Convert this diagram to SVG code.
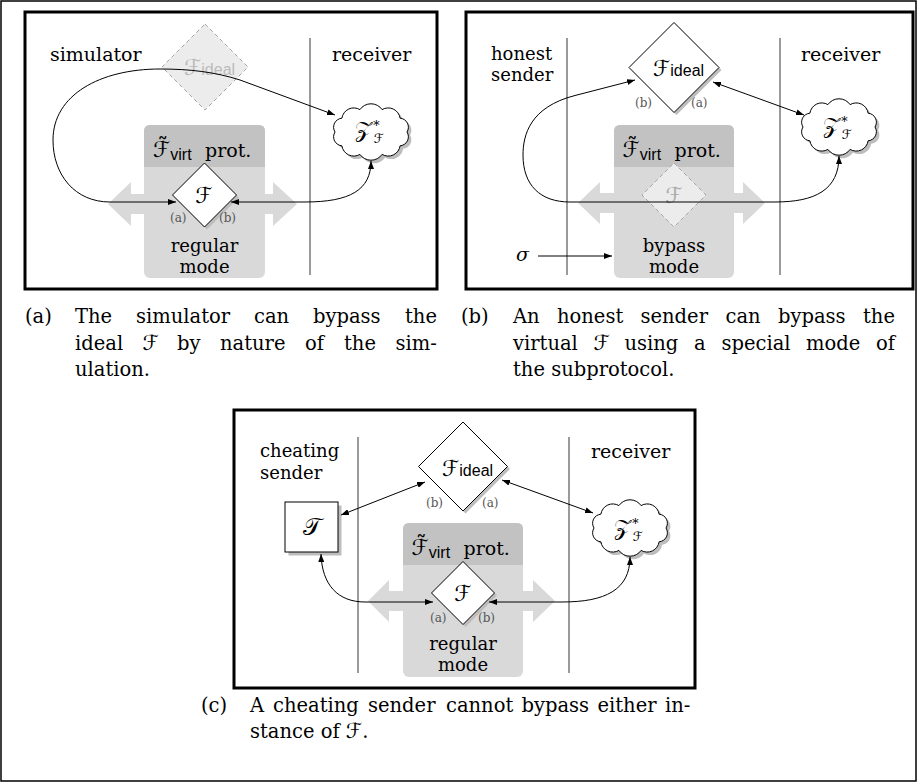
<svg xmlns="http://www.w3.org/2000/svg" width="918" height="783" viewBox="0 0 918 783">
<defs>
<style>
.t{font-family:"DejaVu Serif",serif;font-size:19px;fill:#000}
.t2{font-family:"DejaVu Serif",serif;font-size:18px;fill:#000}
.cap{font-family:"DejaVu Serif",serif;font-size:19.5px;fill:#000}
.mid{text-anchor:middle}
.m{font-family:"DejaVu Serif","DejaVu Sans",serif}
.sf{font-family:"Liberation Sans",Arial,sans-serif;font-size:16px}
.sm{font-family:"DejaVu Serif",serif;font-size:12px;fill:#555}
.panel{fill:none;stroke:#000;stroke-width:3}
.vline{stroke:#9a9a9a;stroke-width:2}
.boxlo{fill:#d9d9d9}
.boxhi{fill:#c2c2c2}
.fat{fill:#d9d9d9}
.dia{fill:#fff;stroke:#000;stroke-width:1}
.shadow{fill:#bdbdbd}
.dash{fill:#ececec;stroke:#a6a6a6;stroke-width:1;stroke-dasharray:4 3}
.cl{fill:#fff;stroke:#000;stroke-width:1}
.conn{fill:none;stroke:#000;stroke-width:1;marker-start:url(#ah);marker-end:url(#ah)}
.conn1{fill:none;stroke:#000;stroke-width:1;marker-end:url(#ah)}
.faded{fill:#bbb}
</style>
<marker id="ah" viewBox="0 0 8 6" refX="8" refY="3" markerWidth="8" markerHeight="6" markerUnits="userSpaceOnUse" orient="auto-start-reverse">
<path d="M0,0 L8,3 L0,6 Z" fill="#000"/>
</marker>
<path id="cloud" d="M36,0 A9 9 0 0 1 29.1,13.8 A12 12 0 0 1 11.1,22.4 A13.5 13.5 0 0 1 -11.1,22.4 A12 12 0 0 1 -29.1,13.8 A9 9 0 0 1 -36,0 A9 9 0 0 1 -29.1,-13.8 A12 12 0 0 1 -11.1,-22.4 A13.5 13.5 0 0 1 11.1,-22.4 A12 12 0 0 1 29.1,-13.8 A9 9 0 0 1 36,0 Z"/>
</defs>
<rect width="918" height="783" fill="#fff"/>
<rect x="1" y="1" width="915" height="780" fill="none" stroke="#000" stroke-width="1.5"/>

<!-- ===== Panel (a) ===== -->
<g id="panel-a">
<rect class="panel" x="25" y="12" width="412" height="277"/>
<line class="vline" x1="310" y1="38" x2="310" y2="275"/>
<text class="t" x="50" y="61">simulator</text>
<text class="t" x="332" y="61">receiver</text>
</g>
<g id="a-Fideal">
<polygon class="dash" points="205,24 248,67 205,110 162,67"/>
<text x="184" y="75" class="faded"><tspan class="m" font-size="22">ℱ</tspan><tspan class="sf">ideal</tspan></text>
</g>
<g id="a-Fvirt">
<polygon class="fat" points="108,204 131,182 131,194 273,194 273,182 297,204 273,226 273,214 131,214 131,226"/>
<rect class="boxlo" x="144" y="125" width="121" height="153" rx="6"/>
<path class="boxhi" d="M144,167 V131 Q144,125 150,125 H259 Q265,125 265,131 V167 Z"/>
<text x="153" y="157"><tspan class="m" font-size="22">ℱ̃</tspan><tspan class="sf" dy="2.5">virt</tspan><tspan class="t" x="205" dy="-2.5">prot.</tspan></text>
<text class="t2 mid" x="204.5" y="252">regular</text>
<text class="t2 mid" x="204.5" y="273">mode</text>
</g>
<g id="a-F">
<polygon class="shadow" points="207,165.5 239,197.5 207,229.5 175,197.5"/>
<polygon class="dia" points="204.5,163 236.5,195 204.5,227 172.5,195"/>
<text class="m mid" x="204" y="203" font-size="22">ℱ</text>
<text class="sm" x="170" y="222">(a)</text>
<text class="sm" x="219" y="222">(b)</text>
</g>
<g id="a-Z">
<use href="#cloud" x="374" y="135" class="shadow"/>
<use href="#cloud" x="371" y="132" class="cl"/>
<text class="m" x="355" y="137" font-size="22">𝒵<tspan font-size="13" dy="-10">∗</tspan><tspan font-size="13" dx="-7" dy="16">ℱ</tspan></text>
</g>

<!-- ===== Panel (b) ===== -->
<g id="panel-b">
<rect class="panel" x="466" y="12" width="447" height="277"/>
<line class="vline" x1="567" y1="38" x2="567" y2="275"/>
<line class="vline" x1="780" y1="38" x2="780" y2="275"/>
<text class="t2" x="491" y="60">honest</text>
<text class="t2" x="491" y="81">sender</text>
<text class="t" x="801" y="61">receiver</text>
</g>
<g id="b-Fideal">
<polygon class="shadow" points="676.5,25 721.5,70 676.5,115 631.5,70"/>
<polygon class="dia" points="674,22.5 719,67.5 674,112.5 629,67.5"/>
<text x="653" y="76"><tspan class="m" font-size="22">ℱ</tspan><tspan class="sf">ideal</tspan></text>
<text class="sm" x="635" y="107">(b)</text>
<text class="sm" x="691" y="107">(a)</text>
</g>
<g id="b-Fvirt">
<polygon class="fat" points="578,203 600,182 600,193 743,193 743,182 765,203 743,224 743,213 600,213 600,224"/>
<rect class="boxlo" x="614" y="125" width="120" height="153" rx="6"/>
<path class="boxhi" d="M614,167 V131 Q614,125 620,125 H728 Q734,125 734,131 V167 Z"/>
<text x="622.5" y="157"><tspan class="m" font-size="22">ℱ̃</tspan><tspan class="sf" dy="2.5">virt</tspan><tspan class="t" x="674.5" dy="-2.5">prot.</tspan></text>
<text class="t2 mid" x="674" y="252">bypass</text>
<text class="t2 mid" x="674" y="273">mode</text>
</g>
<g id="b-F">
<polygon class="dash" points="674,163 706,195 674,227 642,195"/>
<text class="m mid" x="674" y="203" font-size="22" fill="#aaa">ℱ</text>
</g>
<g id="b-Z">
<use href="#cloud" x="842" y="130" class="shadow"/>
<use href="#cloud" x="839" y="127" class="cl"/>
<text class="m" x="823" y="133" font-size="22">𝒵<tspan font-size="13" dy="-10">∗</tspan><tspan font-size="13" dx="-7" dy="16">ℱ</tspan></text>
</g>
<g id="b-sigma">
<text class="t" x="516" y="261" font-size="20" font-style="italic">σ</text>
</g>

<!-- ===== Panel (c) ===== -->
<g id="panel-c">
<rect class="panel" x="234" y="410" width="461" height="278"/>
<line class="vline" x1="358" y1="437" x2="358" y2="673"/>
<line class="vline" x1="569" y1="437" x2="569" y2="673"/>
<text class="t2" x="260" y="457">cheating</text>
<text class="t2" x="260" y="479">sender</text>
<text class="t" x="591" y="458">receiver</text>
</g>
<g id="c-T">
<rect class="shadow" x="288.5" y="505.5" width="53" height="50"/>
<rect class="dia" x="285" y="502" width="53" height="50"/>
<text class="m mid" x="311.5" y="535" font-size="24">𝒯</text>
</g>
<g id="c-Fideal">
<polygon class="shadow" points="465.5,424.5 510,469 465.5,513.5 421,469"/>
<polygon class="dia" points="463,422 507.5,466.5 463,511 418.5,466.5"/>
<text x="442" y="476"><tspan class="m" font-size="22">ℱ</tspan><tspan class="sf">ideal</tspan></text>
<text class="sm" x="426" y="507">(b)</text>
<text class="sm" x="482" y="507">(a)</text>
</g>
<g id="c-Fvirt">
<polygon class="fat" points="368,601 389,580 389,591 533,591 533,580 555,601 533,622 533,611 389,611 389,622"/>
<rect class="boxlo" x="403" y="523" width="120" height="154" rx="6"/>
<path class="boxhi" d="M403,565 V529 Q403,523 409,523 H517 Q523,523 523,529 V565 Z"/>
<text x="411.5" y="555"><tspan class="m" font-size="22">ℱ̃</tspan><tspan class="sf" dy="2.5">virt</tspan><tspan class="t" x="463.5" dy="-2.5">prot.</tspan></text>
<text class="t2 mid" x="463" y="650">regular</text>
<text class="t2 mid" x="463" y="671">mode</text>
</g>
<g id="c-F">
<polygon class="shadow" points="465.5,564 497,595.5 465.5,627 434,595.5"/>
<polygon class="dia" points="463,561.5 494.5,593 463,624.5 431.5,593"/>
<text class="m mid" x="463" y="601" font-size="22">ℱ</text>
<text class="sm" x="430" y="622">(a)</text>
<text class="sm" x="478" y="622">(b)</text>
</g>
<g id="c-Z">
<use href="#cloud" x="633" y="531" class="shadow"/>
<use href="#cloud" x="630" y="528" class="cl"/>
<text class="m" x="614" y="535" font-size="22">𝒵<tspan font-size="13" dy="-10">∗</tspan><tspan font-size="13" dx="-7" dy="16">ℱ</tspan></text>
</g>

<!-- ===== Connectors ===== -->
<g id="connectors">
<path class="conn" d="M176,202 L110,202 C75,202 53,175 53,140 C53,95 100,69 160,69 C190,69 215,72 240,80 L335,115"/>
<path class="conn" d="M231,202 L305,202 C350,202 371,190 371,161"/>
<path class="conn" d="M635,80 L575,95.5 C530,107 523,135 523,155 C523,185 540,202 570,202 L775,202 C815,202 839,190 839,156"/>
<path class="conn" d="M713,82 L804,115"/>
<path class="conn1" d="M538,256 L612,256"/>
<path class="conn" d="M341,515 L425,482"/>
<path class="conn" d="M502,480 L593,513"/>
<path class="conn" d="M321,554 C322,585 338,602 365,602 L433,602"/>
<path class="conn" d="M489,602 L562,602 C605,602 630,590 630,557"/>
</g>

<!-- ===== Captions ===== -->
<g id="caption-a">
<text class="cap" y="323"><tspan x="25">(a)</tspan><tspan x="75">The</tspan><tspan x="136">simulator</tspan><tspan x="254">can</tspan><tspan x="313">bypass</tspan><tspan x="405">the</tspan></text>
<text class="cap" y="349.5"><tspan x="75">ideal</tspan><tspan x="142.5" class="m" font-size="21">ℱ</tspan><tspan x="177">by</tspan><tspan x="220">nature</tspan><tspan x="305">of</tspan><tspan x="344">the</tspan><tspan x="395.5">sim-</tspan></text>
<text class="cap" x="75" y="376">ulation.</text>
</g>
<g id="caption-b">
<text class="cap" y="323"><tspan x="461">(b)</tspan><tspan x="513">An</tspan><tspan x="557">honest</tspan><tspan x="640.5">sender</tspan><tspan x="725.5">can</tspan><tspan x="778">bypass</tspan><tspan x="863">the</tspan></text>
<text class="cap" y="349.5"><tspan x="513">virtual</tspan><tspan x="593.5" class="m" font-size="21">ℱ</tspan><tspan x="624.5">using</tspan><tspan x="694">a</tspan><tspan x="721.5">special</tspan><tspan x="806">mode</tspan><tspan x="876">of</tspan></text>
<text class="cap" x="513" y="376">the subprotocol.</text>
</g>
<g id="caption-c">
<text class="cap" y="712"><tspan x="201">(c)</tspan><tspan x="250">A</tspan><tspan x="273">cheating</tspan><tspan x="368">sender</tspan><tspan x="446">cannot</tspan><tspan x="521.5">bypass</tspan><tspan x="597.5">either</tspan><tspan x="665">in-</tspan></text>
<text class="cap" y="738"><tspan x="250">stance of </tspan><tspan class="m" font-size="21">ℱ</tspan><tspan>.</tspan></text>
</g>
</svg>
